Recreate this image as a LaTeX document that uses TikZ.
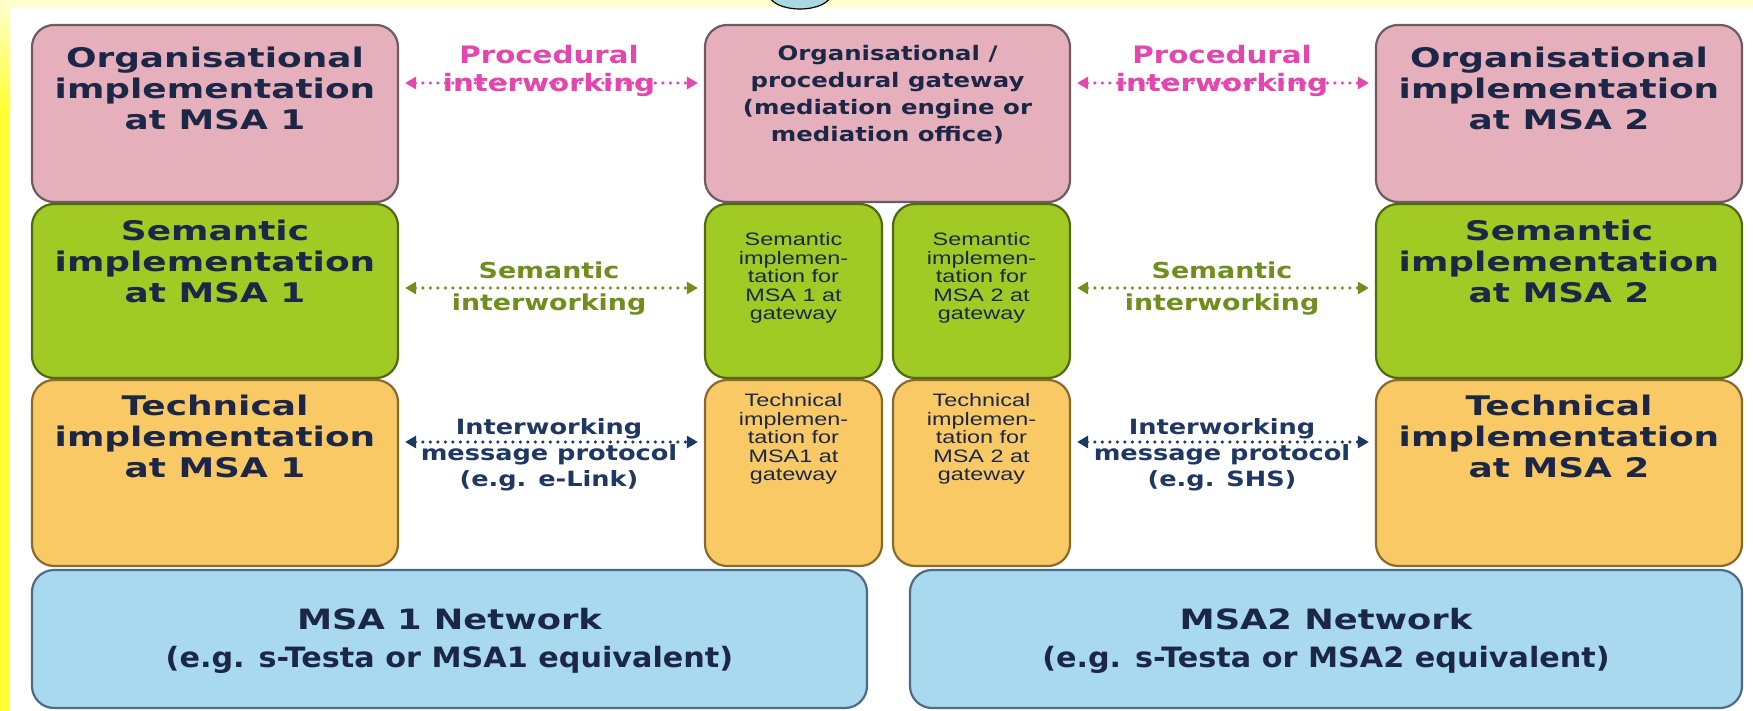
\documentclass[tikz,border=0pt]{standalone}
\usepackage{fontspec}
\newfontfamily\wideb[FakeStretch=1.33]{DejaVu Sans Bold}
\newfontfamily\lblfont[FakeStretch=1.22]{DejaVu Sans Bold}
\newfontfamily\netA[FakeStretch=1.26]{DejaVu Sans Bold}
\newfontfamily\netB[FakeStretch=1.08]{DejaVu Sans Bold}
\newfontfamily\widen[FakeStretch=1.3]{Liberation Sans}
\usetikzlibrary{arrows.meta,calc}
\definecolor{bgy}{HTML}{FFFFCC}
\definecolor{bary}{HTML}{FFFF33}
\definecolor{pinkf}{HTML}{E5B0BC}
\definecolor{pinkd}{HTML}{6E5A62}
\definecolor{greenf}{HTML}{A2CA24}
\definecolor{greend}{HTML}{4F6A12}
\definecolor{orangef}{HTML}{F9C965}
\definecolor{oranged}{HTML}{8A6A2A}
\definecolor{bluef}{HTML}{A9D9EE}
\definecolor{blued}{HTML}{4F6A86}
\definecolor{txt}{HTML}{1C2747}
\definecolor{pinkl}{HTML}{E545AE}
\definecolor{greenl}{HTML}{6F8E1C}
\definecolor{navyl}{HTML}{1E3763}
\definecolor{ellf}{HTML}{A8D8E0}
\tikzset{
 box/.style={line width=2.2pt, rounded corners=22pt, inner sep=0pt},
 pinkbox/.style={box, draw=pinkd, fill=pinkf},
 greenbox/.style={box, draw=greend, fill=greenf},
 techbox/.style={box, draw=oranged, fill=orangef},
 netbox/.style={box, draw=blued, fill=bluef},
 bigtxt/.style={text=txt, align=center, inner sep=0pt, font=\wideb\fontsize{27}{31}\selectfont},
 midtxt/.style={text=txt, align=center, inner sep=0pt, font=\lblfont\fontsize{20}{27}\selectfont},
 smalltxt/.style={text=txt, align=center, inner sep=0pt, font=\widen\fontsize{18}{18.5}\selectfont},
 nettxt/.style={text=txt, align=center, inner sep=0pt, font=\fontsize{28}{38}\selectfont},
 plbl/.style={text=pinkl, align=center, inner sep=0pt, font=\lblfont\fontsize{24}{28}\selectfont},
 slbl/.style={text=greenl, align=center, inner sep=0pt, font=\lblfont\fontsize{22}{32}\selectfont},
 tlbl/.style={text=navyl, align=center, inner sep=0pt, font=\lblfont\fontsize{21}{26}\selectfont},
 dotarrow/.style={line width=3.5pt, line cap=round, dash pattern=on 0pt off 7.5pt,
   {Triangle[length=11pt,width=12pt]}-{Triangle[length=11pt,width=12pt]}},
}
\begin{document}
\begin{tikzpicture}[x=1pt,y=-1pt]
\useasboundingbox (0,0) rectangle (1753,711);
% background
\fill[white] (0,0) rectangle (1753,711);
\fill[bgy] (0,0) rectangle (1753,7);
\shade[top color=bgy, bottom color=bary] (0,0) rectangle (10,110);
\fill[bary] (0,110) rectangle (10,711);
\draw[fill=ellf, line width=1.2pt] (800,-6) ellipse [x radius=31pt, y radius=15pt];

% row 1 : organisational
\node[pinkbox, minimum width=366pt, minimum height=177pt] (o1) at (215,113.5) {};
\node[pinkbox, minimum width=365pt, minimum height=177pt] (gw) at (887.5,113.5) {};
\node[pinkbox, minimum width=366pt, minimum height=177pt] (o2) at (1559,113.5) {};
% row 2 : semantic
\node[greenbox, minimum width=366pt, minimum height=174pt] (s1) at (215,291) {};
\node[greenbox, minimum width=177pt, minimum height=174pt] (sg1) at (793.5,291) {};
\node[greenbox, minimum width=177pt, minimum height=174pt] (sg2) at (981.5,291) {};
\node[greenbox, minimum width=366pt, minimum height=174pt] (s2) at (1559,291) {};
% row 3 : technical
\node[techbox, minimum width=366pt, minimum height=186pt] (t1) at (215,473) {};
\node[techbox, minimum width=177pt, minimum height=186pt] (tg1) at (793.5,473) {};
\node[techbox, minimum width=177pt, minimum height=186pt] (tg2) at (981.5,473) {};
\node[techbox, minimum width=366pt, minimum height=186pt] (t2) at (1559,473) {};
% row 4 : networks
\node[netbox, minimum width=835pt, minimum height=138pt] (n1) at (449.5,639) {};
\node[netbox, minimum width=832pt, minimum height=138pt] (n2) at (1326,639) {};

% box texts
\node[bigtxt] (o1t) at (215,88) {Organisational\\implementation\\at MSA 1};
\node[midtxt] (gwt) at (887.5,95) {Organisational /\\procedural gateway\\(mediation engine or\\mediation office)};
\node[bigtxt] (o2t) at (1559,88) {Organisational\\implementation\\at MSA 2};
\node[bigtxt] (s1t) at (215,261) {Semantic\\implementation\\at MSA 1};
\node[smalltxt] (sg1t) at (793.5,278) {Semantic\\implemen-\\tation for\\MSA 1 at\\gateway};
\node[smalltxt] (sg2t) at (981.5,278) {Semantic\\implemen-\\tation for\\MSA 2 at\\gateway};
\node[bigtxt] (s2t) at (1559,261) {Semantic\\implementation\\at MSA 2};
\node[bigtxt] (t1t) at (215,436) {Technical\\implementation\\at MSA 1};
\node[smalltxt] (tg1t) at (793.5,439) {Technical\\implemen-\\tation for\\MSA1 at\\gateway};
\node[smalltxt] (tg2t) at (981.5,439) {Technical\\implemen-\\tation for\\MSA 2 at\\gateway};
\node[bigtxt] (t2t) at (1559,436) {Technical\\implementation\\at MSA 2};
\node[nettxt] (n1t) at (449.5,641) {{\netA MSA 1 Network}\\{\netB (e.g. s-Testa or MSA1 equivalent)}};
\node[nettxt] (n2t) at (1326,641) {{\netA MSA2 Network}\\{\netB (e.g. s-Testa or MSA2 equivalent)}};

% connectors
\draw[dotarrow, pinkl] ($(o1.east)+(6,-30.5)$) -- ($(gw.west)+(-6,-30.5)$);
\draw[dotarrow, pinkl] ($(gw.east)+(6,-30.5)$) -- ($(o2.west)+(-6,-30.5)$);
\draw[dotarrow, greenl] ($(s1.east)+(6,-3)$) -- ($(sg1.west)+(-6,-3)$);
\draw[dotarrow, greenl] ($(sg2.east)+(6,-3)$) -- ($(s2.west)+(-6,-3)$);
\draw[dotarrow, navyl] ($(t1.east)+(6,-31)$) -- ($(tg1.west)+(-6,-31)$);
\draw[dotarrow, navyl] ($(tg2.east)+(6,-31)$) -- ($(t2.west)+(-6,-31)$);

% connector labels
\node[plbl] (pl1) at (549,71) {Procedural\\interworking};
\node[plbl] (pl2) at (1222,71) {Procedural\\interworking};
\node[slbl] (sl1) at (549,289) {Semantic\\interworking};
\node[slbl] (sl2) at (1222,289) {Semantic\\interworking};
\node[tlbl] (tl1) at (549,455) {Interworking\\message protocol\\(e.g. e-Link)};
\node[tlbl] (tl2) at (1222,455) {Interworking\\message protocol\\(e.g. SHS)};
\end{tikzpicture}
\end{document}
